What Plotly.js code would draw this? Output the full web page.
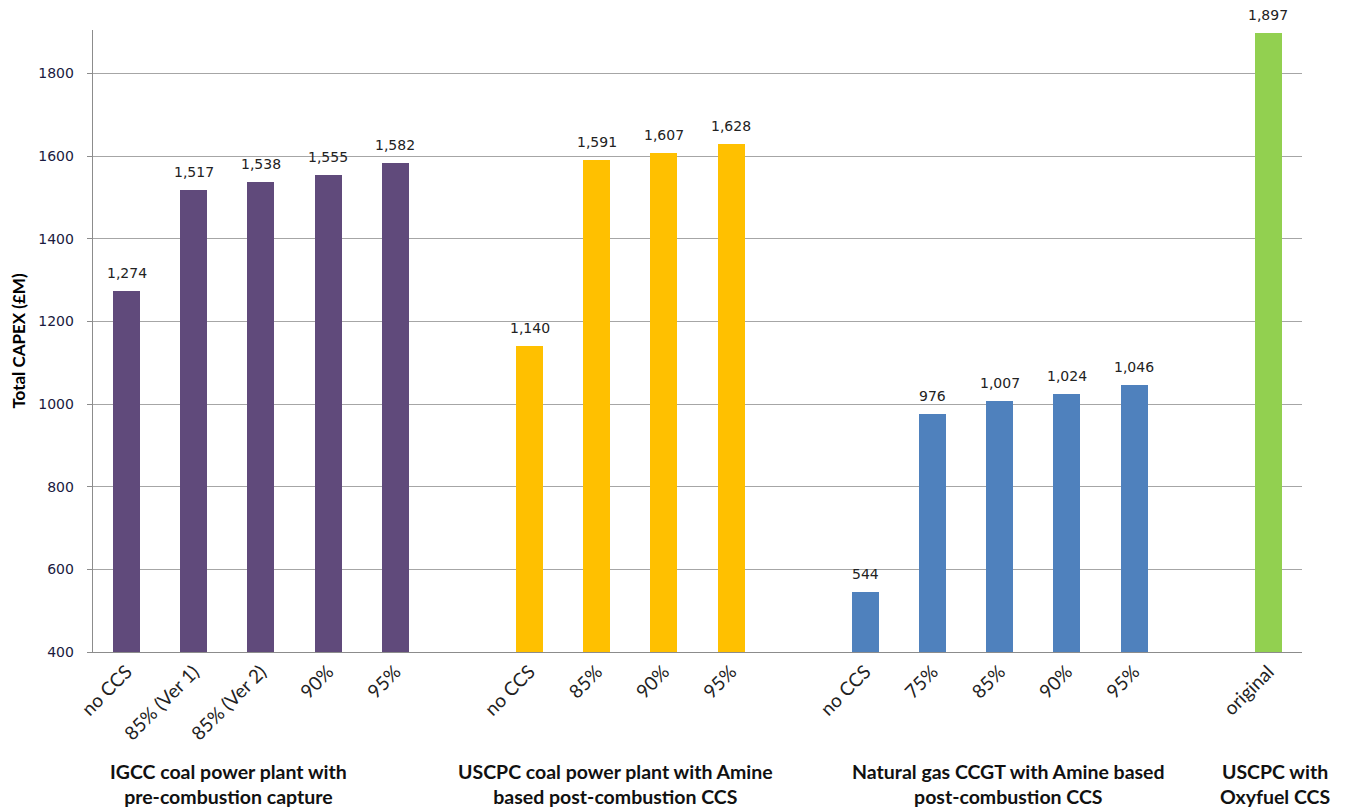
<!DOCTYPE html>
<html>
<head>
<meta charset="utf-8">
<script src="https://cdn.plot.ly/plotly-3.0.1.min.js"></script>
<style>html,body{margin:0;padding:0;background:#fff;}#chart{width:1347px;height:812px;}</style>
</head>
<body>
<div id="chart"></div>
<script>
// Data
const groupNames = [
  "IGCC coal power plant with<br>pre-combustion capture",
  "USCPC coal power plant with Amine<br>based post-combustion CCS",
  "Natural gas CCGT with Amine based<br>post-combustion CCS",
  "USCPC with<br>Oxyfuel CCS"
];
const igccLabels = ["no CCS", "85% (Ver 1)", "85% (Ver 2)", "90%", "95%"];
const igccValues = [1274, 1517, 1538, 1555, 1582];
const uscpcLabels = ["no CCS", "85%", "90%", "95%"];
const uscpcValues = [1140, 1591, 1607, 1628];
const ccgtLabels = ["no CCS", "75%", "85%", "90%", "95%"];
const ccgtValues = [544, 976, 1007, 1024, 1046];
const oxyLabels = ["original"];
const oxyValues = [1897];

const colors = ["#604A7B", "#FFC000", "#4F81BD", "#92D050"];
const groups = [
  {key: "IGCC", labels: igccLabels, values: igccValues},
  {key: "USCPC", labels: uscpcLabels, values: uscpcValues},
  {key: "CCGT", labels: ccgtLabels, values: ccgtValues},
  {key: "OXY", labels: oxyLabels, values: oxyValues}
];

// Build category order with one empty slot between groups
const catArray = [], tickVals = [], tickText = [];
groups.forEach((g, gi) => {
  g.ids = g.labels.map(l => g.key + "|" + l);
  g.ids.forEach((id, i) => { catArray.push(id); tickVals.push(id); tickText.push(g.labels[i]); });
  if (gi < groups.length - 1) catArray.push("gap" + gi);
});

const traces = groups.map((g, gi) => ({
  type: "bar",
  x: g.ids,
  y: g.values,
  width: 0.4,
  marker: {color: colors[gi]},
  hoverinfo: "x+y",
  showlegend: false
}));
// invisible trace to reserve gap slots
traces.push({type: "bar", x: catArray.filter(c => c.startsWith("gap")), y: [null, null, null], showlegend: false, hoverinfo: "skip"});

// value labels above bars
const annotations = [];
groups.forEach(g => {
  g.ids.forEach((id, i) => {
    annotations.push({
      x: id, y: g.values[i], xref: "x", yref: "y",
      text: g.values[i].toLocaleString("en-US"),
      showarrow: false, xanchor: "center", yanchor: "bottom", yshift: 8,
      font: {family: "DejaVu Sans", size: 14, color: "#222"}
    });
  });
});

const annX = [0.112, 0.432, 0.757, 0.978];
groupNames.forEach((t, i) => annotations.push({
  text: t, xref: "paper", yref: "paper", x: annX[i], y: -0.212,
  xanchor: "center", yanchor: "middle", showarrow: false, align: "center",
  font: {family: "Lato", size: 19.5, color: "#111", weight: "bold"}
}));

const layout = {
  width: 1347, height: 812,
  margin: {l: 93, r: 45, t: 30, b: 160},
  paper_bgcolor: "#fff", plot_bgcolor: "#fff",
  barmode: "overlay",
  bargap: 0,
  xaxis: {
    type: "category", categoryorder: "array", categoryarray: catArray,
    tickvals: tickVals, ticktext: tickText, tickangle: -45,
    range: [-0.5, catArray.length - 0.5],
    showline: true, linecolor: "#8c8c8c", linewidth: 1.3,
    showgrid: false, ticks: "", zeroline: false,
    tickfont: {family: "Lato", size: 19, color: "#222"}
  },
  yaxis: {
    range: [400, 1905], tickvals: [400, 600, 800, 1000, 1200, 1400, 1600, 1800],
    tickformat: "d",
    showline: true, linecolor: "#8c8c8c", linewidth: 1.3,
    showgrid: true, gridcolor: "#a6a6a6", gridwidth: 1,
    ticks: "outside", ticklen: 5, tickcolor: "#8c8c8c",
    ticklabelstandoff: 10,
    zeroline: false,
    tickfont: {family: "DejaVu Sans", size: 14, color: "#1a1a40"},
    title: {text: "Total CAPEX (£M)", font: {family: "Lato", size: 17, color: "#000", weight: "bold"}, standoff: 8}
  },
  annotations: annotations
};

Plotly.newPlot("chart", traces, layout, {displayModeBar: false, staticPlot: true});
</script>
</body>
</html>
